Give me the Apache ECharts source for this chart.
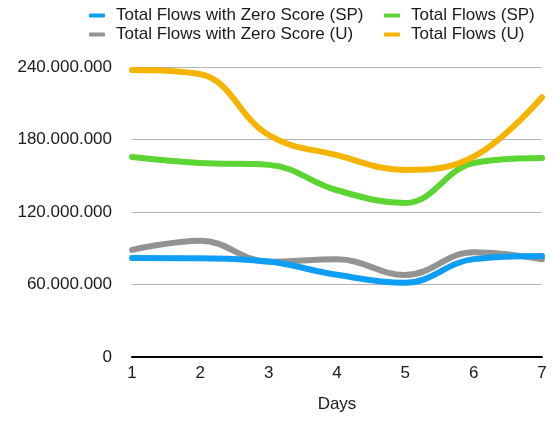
<!DOCTYPE html>
<html>
<head>
<meta charset="utf-8">
<script src="https://cdn.jsdelivr.net/npm/echarts@6/dist/echarts.min.js"></script>
<style>html,body{margin:0;padding:0;background:#fff}#c{width:553px;height:422px}</style>
</head>
<body>
<div id="c"></div>
<script>
var days = ['1','2','3','4','5','6','7'];
var zeroScoreSP = [82000000, 81700000, 79000000, 68000000, 61500000, 81000000, 83600000];
var zeroScoreU  = [88600000, 96300000, 78900000, 80900000, 67900000, 86700000, 80900000];
var totalSP     = [165500000, 160500000, 159000000, 138000000, 127500000, 160500000, 164700000];
var totalU      = [237500000, 234000000, 183700000, 167000000, 154800000, 165800000, 215000000];
var yTicks = [0, 60000000, 120000000, 180000000, 240000000];

var names = ['Total Flows with Zero Score (SP)', 'Total Flows with Zero Score (U)', 'Total Flows (SP)', 'Total Flows (U)'];
var colors = ['#0f9ef5', '#939393', '#5cd532', '#f5b400'];
var font = '"Liberation Sans", Arial, Helvetica, sans-serif';

function fmt(v){ return String(v).replace(/\B(?=(\d{3})+(?!\d))/g, '.'); }

var chart = echarts.init(document.getElementById('c'));
function mk(name, data, color){
  return {name:name, type:'line', data:data, smooth:0.4, symbol:'none',
    lineStyle:{width:6, color:color, cap:'round'}, itemStyle:{color:color}};
}
var legendText = {fontSize:17, color:'#1a1a1a', fontFamily:font, padding:[0,0,0,6]};
chart.setOption({
  animation:false,
  textStyle:{fontFamily:font},
  legend:[
    {left:89, top:7, padding:0, orient:'vertical', itemGap:2, icon:'roundRect', itemWidth:16, itemHeight:4,
     textStyle:legendText, data:[names[0], names[1]]},
    {left:384, top:7, padding:0, orient:'vertical', itemGap:2, icon:'roundRect', itemWidth:16, itemHeight:4,
     textStyle:legendText, data:[names[2], names[3]]}
  ],
  grid:{left:132, right:11, top:67, bottom:65, containLabel:false},
  xAxis:{type:'category', data:days, boundaryGap:false,
    axisLine:{lineStyle:{color:'#000', width:2}}, axisTick:{show:false},
    axisLabel:{fontSize:17, color:'#1a1a1a', margin:8},
    name:'Days', nameLocation:'middle', nameGap:39,
    nameTextStyle:{fontSize:17, color:'#1a1a1a'}},
  yAxis:{type:'value', min:yTicks[0], max:yTicks[yTicks.length-1], interval:yTicks[1]-yTicks[0],
    axisLine:{show:false}, axisTick:{show:false},
    axisLabel:{fontSize:17, color:'#1a1a1a', margin:20, formatter:fmt},
    splitLine:{lineStyle:{color:'#b3b3b3', width:1}}},
  series:[
    mk(names[1], zeroScoreU, colors[1]),
    mk(names[0], zeroScoreSP, colors[0]),
    mk(names[2], totalSP, colors[2]),
    mk(names[3], totalU, colors[3])
  ]
});
</script>
</body>
</html>
